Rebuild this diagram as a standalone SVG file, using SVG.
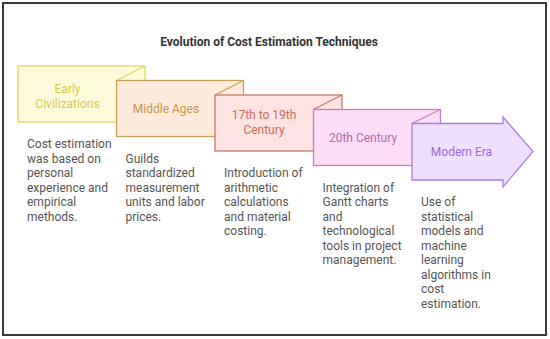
<svg xmlns="http://www.w3.org/2000/svg" width="550" height="339" viewBox="0 0 550 339">
<style>
.title{font-family:Roboto,"Liberation Sans",sans-serif;font-size:12px;font-weight:bold;fill:#333;text-anchor:middle}
.lbl{font-family:Roboto,"Liberation Sans",sans-serif;font-size:12px;text-anchor:middle}
.desc{font-family:Roboto,"Liberation Sans",sans-serif;font-size:12px;fill:#555}
.sh{stroke-width:1.3;stroke-linejoin:miter}
</style>
<rect x="0" y="0" width="550" height="339" fill="#fff"/>
<rect x="3" y="3" width="543" height="332" fill="#fff" stroke="#3a3a3a" stroke-width="2"/>
<text class="title" x="269" y="46">Evolution of Cost Estimation Techniques</text>

<g id="node-early">
<rect class="sh" x="18" y="66" width="127" height="56" fill="#fefbdb" stroke="#e0d95e"/>
<line class="sh" x1="145" y1="66" x2="116.5" y2="80.5" stroke="#e0d95e"/>
<text class="lbl" fill="#d5cd45" x="67.5" y="93">Early</text>
<text class="lbl" fill="#d5cd45" x="67.5" y="107.5">Civilizations</text>
</g>

<g id="node-middle">
<rect class="sh" x="116.5" y="80.5" width="127" height="56" fill="#feebdc" stroke="#c9a055"/>
<line class="sh" x1="243.5" y1="80.5" x2="215" y2="95" stroke="#c9a055"/>
<text class="lbl" fill="#c8944a" x="166" y="113">Middle Ages</text>
</g>

<g id="node-17th">
<rect class="sh" x="215" y="95" width="127" height="56" fill="#fde3e1" stroke="#c8796b"/>
<line class="sh" x1="342" y1="95" x2="313.5" y2="109.5" stroke="#c8796b"/>
<text class="lbl" fill="#cc6d5e" x="264" y="119">17th to 19th</text>
<text class="lbl" fill="#cc6d5e" x="264" y="133.5">Century</text>
</g>

<g id="node-20th">
<rect class="sh" x="313.5" y="109.5" width="127" height="56" fill="#fcdcf6" stroke="#c97ac2"/>
<line class="sh" x1="440.5" y1="109.5" x2="412" y2="123.5" stroke="#c97ac2"/>
<text class="lbl" fill="#b468b2" x="363" y="141.5">20th Century</text>
</g>

<g id="node-modern">
<polygon class="sh" points="412,123.5 503,123.5 503,117 533,151.5 503,187 503,180 412,180" fill="#efdefc" stroke="#a47fe0"/>
<text class="lbl" fill="#9a6cdc" x="461.5" y="155.5">Modern Era</text>
</g>

<g id="connectors"></g>

<g id="desc-early">
<text class="desc" x="27" y="148">Cost estimation</text>
<text class="desc" x="27" y="162.5">was based on</text>
<text class="desc" x="27" y="177">personal</text>
<text class="desc" x="27" y="191.5">experience and</text>
<text class="desc" x="27" y="206">empirical</text>
<text class="desc" x="27" y="220.5">methods.</text>
</g>
<g id="desc-middle">
<text class="desc" x="125.5" y="162.5">Guilds</text>
<text class="desc" x="125.5" y="177">standardized</text>
<text class="desc" x="125.5" y="191.5">measurement</text>
<text class="desc" x="125.5" y="206">units and labor</text>
<text class="desc" x="125.5" y="220.5">prices.</text>
</g>
<g id="desc-17th">
<text class="desc" x="224" y="177">Introduction of</text>
<text class="desc" x="224" y="191.5">arithmetic</text>
<text class="desc" x="224" y="206">calculations</text>
<text class="desc" x="224" y="220.5">and material</text>
<text class="desc" x="224" y="235">costing.</text>
</g>
<g id="desc-20th">
<text class="desc" x="322.5" y="191.5">Integration of</text>
<text class="desc" x="322.5" y="206">Gantt charts</text>
<text class="desc" x="322.5" y="220.5">and</text>
<text class="desc" x="322.5" y="235">technological</text>
<text class="desc" x="322.5" y="249.5">tools in project</text>
<text class="desc" x="322.5" y="264">management.</text>
</g>
<g id="desc-modern">
<text class="desc" x="421" y="206">Use of</text>
<text class="desc" x="421" y="220.5">statistical</text>
<text class="desc" x="421" y="235">models and</text>
<text class="desc" x="421" y="249.5">machine</text>
<text class="desc" x="421" y="264">learning</text>
<text class="desc" x="421" y="278.5">algorithms in</text>
<text class="desc" x="421" y="293">cost</text>
<text class="desc" x="421" y="307.5">estimation.</text>
</g>
</svg>
